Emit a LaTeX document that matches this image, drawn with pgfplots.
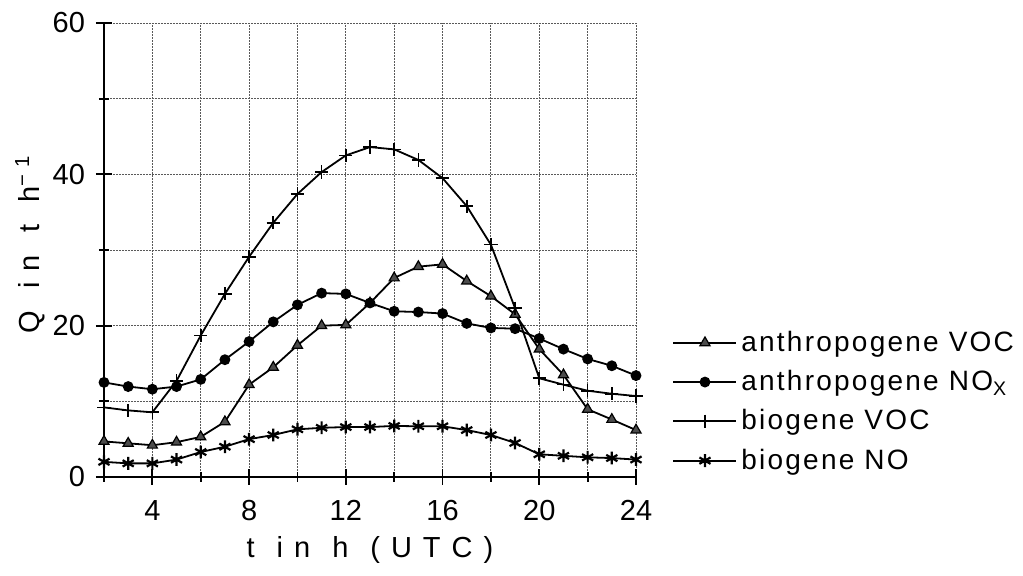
\documentclass[border=0pt]{standalone}
\usepackage{fontspec}
\setmainfont{Liberation Sans}
\newfontfamily\legendfont[LetterSpace=8]{Liberation Sans}
\newfontfamily\spacedfont[LetterSpace=38]{Liberation Sans}
\usepackage{pgfplots}
\pgfplotsset{compat=1.18}
\newcommand{\wsp}{\hspace*{11pt}}

\begin{document}
\begin{tikzpicture}
\path[use as bounding box] (-52pt,-49.5pt) rectangle (459.5pt,238.5pt);
\begin{axis}[
  at={(0pt,0pt)}, anchor=south west,
  scale only axis,
  width=266pt, height=227pt,
  xmin=2, xmax=24, ymin=0, ymax=60,
  axis x line*=bottom, axis y line*=left,
  axis line style={line width=1.4pt},
  xtick={4,8,...,24}, minor xtick={2,6,...,22},
  ytick={0,20,40,60}, minor ytick={10,30,50},
  grid=both,
  grid style={black!65, line width=0.45pt, dash pattern=on 1pt off 0.5pt},
  minor grid style={black!65, line width=0.45pt, dash pattern=on 1pt off 0.5pt},
  tick align=center,
  major tick length=8pt, minor tick length=5pt,
  tick style={black, line width=0.9pt},
  /pgf/number format/assume math mode=true,
  ticklabel style={font=\fontsize{14.5}{16}\selectfont},
  xticklabel style={yshift=-4pt},
  yticklabel style={xshift=-2pt},
  xlabel={\spacedfont\fontsize{14.5}{16}\selectfont t\wsp{}in\wsp{}h\wsp{}(UTC)},
  ylabel={\spacedfont\fontsize{14.5}{16}\selectfont Q\wsp{}in\wsp{}t\wsp{}h\textsuperscript{−1}},
  xlabel style={yshift=-1pt},
  ylabel style={yshift=-3pt, xshift=3pt},
  every axis plot/.append style={black, line width=0.9pt},
  legend style={at={(1.068,0.331)}, anchor=north west, draw=none, fill=none,
    font=\legendfont\fontsize{14}{16}\selectfont, row sep=4pt,
    inner sep=0pt},
  legend cell align=left,
  legend image code/.code={\draw[mark repeat=2,mark phase=2,#1] plot coordinates {(0pt,0pt) (15.75pt,0pt) (31.5pt,0pt)};},
]
% anthropogenic VOC
\addplot[mark=triangle*, mark size=2.9pt, mark options={fill=black!70, draw=black, line width=0.6pt}] coordinates {
(2,4.7) (3,4.45) (4,4.2) (5,4.6) (6,5.3) (7,7.3) (8,12.2) (9,14.5) (10,17.4) (11,20.0) (12,20.1) (13,23.0)
(14,26.3) (15,27.8) (16,28.1) (17,25.9) (18,23.9) (19,21.5) (20,16.9) (21,13.5) (22,8.95) (23,7.6) (24,6.2)};
\addlegendentry{anthropogene VOC}
% anthropogenic NOx
\addplot[mark=*, mark size=2.25pt, mark options={fill=black}] coordinates {
(2,12.5) (3,11.95) (4,11.6) (5,11.95) (6,12.9) (7,15.5) (8,17.9) (9,20.5) (10,22.75) (11,24.3) (12,24.2) (13,23.0)
(14,21.9) (15,21.8) (16,21.6) (17,20.3) (18,19.7) (19,19.6) (20,18.3) (21,16.9) (22,15.6) (23,14.7) (24,13.4)};
\addlegendentry{anthropogene NO\textsubscript{\smash{X}}}
% biogenic VOC
\addplot[mark=+, mark size=3.3pt, mark options={line width=0.8pt}] coordinates {
(2,9.2) (3,8.8) (4,8.55) (5,12.7) (6,18.7) (7,24.2) (8,29.1) (9,33.6) (10,37.4) (11,40.3) (12,42.5) (13,43.6)
(14,43.3) (15,41.9) (16,39.5) (17,35.8) (18,30.7) (19,22.3) (20,13.05) (21,12.2) (22,11.4) (23,11.0) (24,10.7)};
\addlegendentry{biogene VOC}
% biogenic NO
\addplot[mark=asterisk, mark size=3.2pt, mark options={line width=1.1pt}] coordinates {
(2,2.0) (3,1.8) (4,1.8) (5,2.3) (6,3.3) (7,4.0) (8,5.0) (9,5.55) (10,6.3) (11,6.5) (12,6.6) (13,6.6)
(14,6.75) (15,6.7) (16,6.7) (17,6.2) (18,5.55) (19,4.5) (20,3.0) (21,2.8) (22,2.6) (23,2.5) (24,2.3)};
\addlegendentry{biogene NO}
\end{axis}
\end{tikzpicture}
\end{document}
